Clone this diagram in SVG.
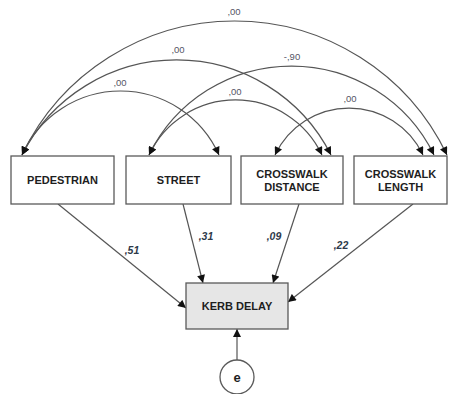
<svg xmlns="http://www.w3.org/2000/svg" width="450" height="394" viewBox="0 0 450 394">
  <style>
    .box { fill: #ffffff; stroke: #5a5a5a; stroke-width: 1.3; }
    .dep { fill: #e6e6e6; stroke: #5a5a5a; stroke-width: 1.3; }
    .lbl { font-family: "Liberation Sans", Arial, sans-serif; font-size: 11px; font-weight: bold; fill: #1e1e1e; text-anchor: middle; }
    .cov { fill: none; stroke: #555555; stroke-width: 1.2; marker-start: url(#ah); marker-end: url(#ah); }
    .reg { fill: none; stroke: #555555; stroke-width: 1.2; marker-end: url(#ah); }
    .cval { font-family: "Liberation Sans", Arial, sans-serif; font-size: 9.5px; fill: #555566; text-anchor: middle; }
    .rval { font-family: "Liberation Sans", Arial, sans-serif; font-size: 10.5px; font-weight: bold; font-style: italic; fill: #2e3a4a; text-anchor: middle; }
  </style>
  <defs>
    <marker id="ah" viewBox="0 0 10 10" refX="10" refY="5" markerWidth="9" markerHeight="8" markerUnits="userSpaceOnUse" orient="auto-start-reverse">
      <path d="M0,0 L10,5 L0,10 z" fill="#111111"/>
    </marker>
  </defs>
  <rect width="450" height="394" fill="#ffffff"/>

  <!-- connectors -->
  <g id="connectors">
    <!-- covariances -->
    <path class="cov" d="M22,155 A107.8,107.8 0 0 1 219,155"/>
    <path class="cov" d="M22,155 A173.1,173.1 0 0 1 331,155"/>
    <path class="cov" d="M22,155 A235.5,235.5 0 0 1 447,155"/>
    <path class="cov" d="M149,155 A95.5,95.5 0 0 1 322,155"/>
    <path class="cov" d="M149,155 A158.6,158.6 0 0 1 434,155"/>
    <path class="cov" d="M275,155 A81.8,81.8 0 0 1 423,155"/>
    <!-- regressions -->
    <path class="reg" d="M58,204 L186,308"/>
    <path class="reg" d="M183,204 L203,283"/>
    <path class="reg" d="M299,204 L273,283"/>
    <path class="reg" d="M413,204 L288,302"/>
    <path class="reg" d="M237,360 L237,329"/>
    <!-- covariance values -->
    <text class="cval" x="120" y="86">,00</text>
    <text class="cval" x="178" y="53">,00</text>
    <text class="cval" x="234" y="15">,00</text>
    <text class="cval" x="235" y="95">,00</text>
    <text class="cval" x="292" y="60">-,90</text>
    <text class="cval" x="350" y="102">,00</text>
    <!-- regression weights -->
    <text class="rval" x="132" y="254">,51</text>
    <text class="rval" x="206" y="240">,31</text>
    <text class="rval" x="274" y="240">,09</text>
    <text class="rval" x="341" y="249">,22</text>
  </g>

  <g id="pedestrian">
    <rect class="box" x="11" y="156" width="103" height="48"/>
    <text class="lbl" x="62.5" y="184">PEDESTRIAN</text>
  </g>
  <g id="street">
    <rect class="box" x="126" y="156" width="105" height="48"/>
    <text class="lbl" x="178.5" y="184">STREET</text>
  </g>
  <g id="crosswalk-distance">
    <rect class="box" x="241" y="156" width="102" height="48"/>
    <text class="lbl" x="292" y="178">CROSSWALK</text>
    <text class="lbl" x="292" y="191">DISTANCE</text>
  </g>
  <g id="crosswalk-length">
    <rect class="box" x="354" y="156" width="93" height="48"/>
    <text class="lbl" x="400.5" y="178">CROSSWALK</text>
    <text class="lbl" x="400.5" y="191">LENGTH</text>
  </g>
  <g id="kerb-delay">
    <rect class="dep" x="186" y="283" width="102" height="46"/>
    <text class="lbl" x="237" y="310">KERB DELAY</text>
  </g>
  <g id="error">
    <circle cx="237" cy="377" r="17" fill="#ffffff" stroke="#5a5a5a" stroke-width="1.3"/>
    <text class="lbl" x="237" y="382" style="font-size:13px">e</text>
  </g>
</svg>
